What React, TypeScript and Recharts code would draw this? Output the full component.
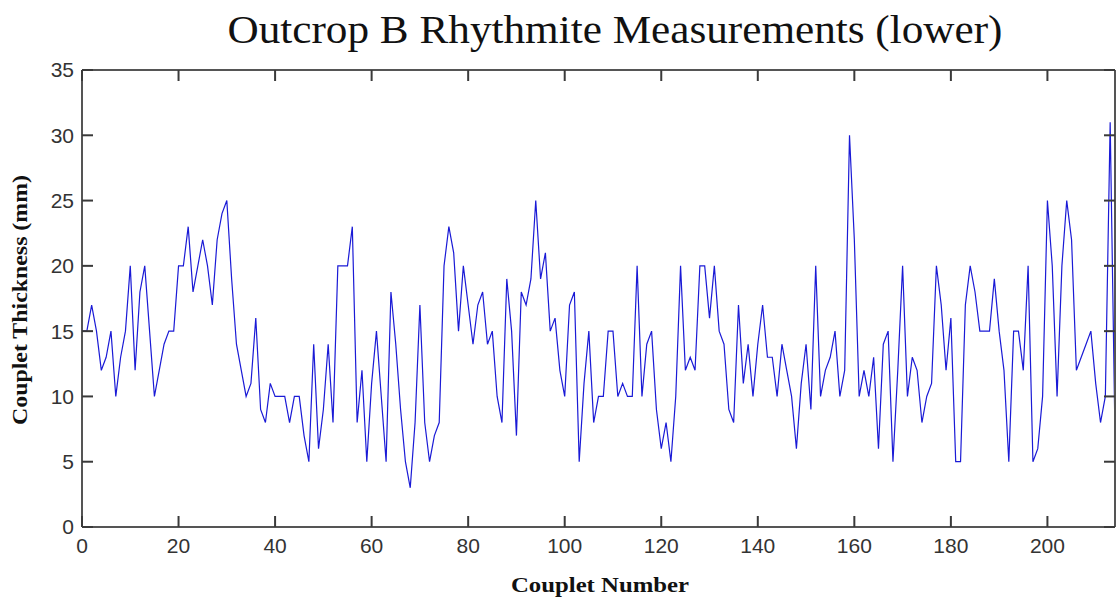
import { LineChart, Line, XAxis, YAxis } from "recharts";

// couplet thickness in mm, couplet 0..214
const thickness = [
  15, 15, 17, 15, 12, 13, 15, 10, 13, 15,
  20, 12, 18, 20, 15, 10, 12, 14, 15, 15,
  20, 20, 23, 18, 20, 22, 20, 17, 22, 24,
  25, 19, 14, 12, 10, 11, 16, 9, 8, 11,
  10, 10, 10, 8, 10, 10, 7, 5, 14, 6,
  9, 14, 8, 20, 20, 20, 23, 8, 12, 5,
  11, 15, 10, 5, 18, 14, 9, 5, 3, 8,
  17, 8, 5, 7, 8, 20, 23, 21, 15, 20,
  17, 14, 17, 18, 14, 15, 10, 8, 19, 15,
  7, 18, 17, 19, 25, 19, 21, 15, 16, 12,
  10, 17, 18, 5, 11, 15, 8, 10, 10, 15,
  15, 10, 11, 10, 10, 20, 10, 14, 15, 9,
  6, 8, 5, 10, 20, 12, 13, 12, 20, 20,
  16, 20, 15, 14, 9, 8, 17, 11, 14, 10,
  14, 17, 13, 13, 10, 14, 12, 10, 6, 11,
  14, 9, 20, 10, 12, 13, 15, 10, 12, 30,
  22, 10, 12, 10, 13, 6, 14, 15, 5, 12,
  20, 10, 13, 12, 8, 10, 11, 20, 17, 12,
  16, 5, 5, 17, 20, 18, 15, 15, 15, 19,
  15, 12, 5, 15, 15, 12, 20, 5, 6, 10,
  25, 20, 10, 20, 25, 22, 12, 13, 14, 15,
  11, 8, 10, 31, 7,
];

const xTicks = [0, 20, 40, 60, 80, 100, 120, 140, 160, 180, 200];
const yTicks = [0, 5, 10, 15, 20, 25, 30, 35];

const data = thickness.map((t, i) => ({ n: i, t }));

const serif = '"Liberation Serif", "Times New Roman", serif';
const sans = '"Liberation Sans", Arial, Helvetica, sans-serif';
const frame = "#555";
const tickColor = "#3a3a3a";
const TICK = 11;
const X_GAP = 11;
const Y_GAP = 8;

// matlab style: tick marks point into the plot, label outside
const BottomTick = (props: any) => {
  const { x, y, payload } = props;
  return (
    <g>
      <path d={`M${x},${y - X_GAP}V${y - X_GAP - TICK}`} stroke={tickColor} strokeWidth={2} fill="none" />
      <text x={x} y={y} dy="0.71em" textAnchor="middle" fontFamily={sans} fontSize={21} fill="#333">
        {payload.value}
      </text>
    </g>
  );
};

const LeftTick = (props: any) => {
  const { x, y, payload } = props;
  return (
    <g>
      <path d={`M${x + Y_GAP},${y}H${x + Y_GAP + TICK}`} stroke={tickColor} strokeWidth={2} fill="none" />
      <text x={x} y={y} dy="0.355em" textAnchor="end" fontFamily={sans} fontSize={21} fill="#333">
        {payload.value}
      </text>
    </g>
  );
};

const TopTick = (props: any) => {
  const { x, y } = props;
  return <path d={`M${x},${y}V${y + TICK}`} stroke={tickColor} strokeWidth={2} fill="none" />;
};

const RightTick = (props: any) => {
  const { x, y } = props;
  return <path d={`M${x},${y}H${x - TICK}`} stroke={tickColor} strokeWidth={2} fill="none" />;
};

export default function App() {
  return (
    <div style={{ position: "absolute", left: 0, top: 0, width: 1118, height: 603, background: "#fff" }}>
      <LineChart
        width={1118}
        height={603}
        data={data}
        margin={{ top: 69, right: 2, bottom: 0, left: 0 }}
      >
        <XAxis
          dataKey="n"
          type="number"
          domain={[0, 214]}
          ticks={xTicks}
          height={76}
          tickSize={0}
          tickMargin={X_GAP}
          tick={BottomTick}
          tickLine={false}
          axisLine={{ stroke: frame, strokeWidth: 2 }}
        />
        <XAxis
          xAxisId="top"
          orientation="top"
          dataKey="n"
          type="number"
          domain={[0, 214]}
          ticks={xTicks}
          height={1}
          tickSize={0}
          tickMargin={0}
          tick={TopTick}
          tickLine={false}
          axisLine={{ stroke: frame, strokeWidth: 2 }}
        />
        <YAxis
          domain={[0, 35]}
          ticks={yTicks}
          width={82}
          tickSize={0}
          tickMargin={Y_GAP}
          tick={LeftTick}
          tickLine={false}
          axisLine={{ stroke: frame, strokeWidth: 2 }}
        />
        <YAxis
          yAxisId="right"
          orientation="right"
          domain={[0, 35]}
          ticks={yTicks}
          width={1}
          tickSize={0}
          tickMargin={0}
          tick={RightTick}
          tickLine={false}
          axisLine={{ stroke: frame, strokeWidth: 2 }}
        />
        <Line
          type="linear"
          dataKey="t"
          stroke="#1a1ad6"
          strokeWidth={1.2}
          dot={false}
          isAnimationActive={false}
        />
        <Line
          xAxisId="top"
          yAxisId="right"
          type="linear"
          dataKey="t"
          stroke="none"
          dot={false}
          activeDot={false}
          legendType="none"
          isAnimationActive={false}
        />
      </LineChart>
      <svg
        width={1118}
        height={603}
        style={{ position: "absolute", left: 0, top: 0, pointerEvents: "none" }}
      >
        <text
          x={615}
          y={43}
          textAnchor="middle"
          fontFamily={serif}
          fontSize={40}
          fill="#111"
          textLength={775}
          lengthAdjust="spacingAndGlyphs"
        >
          Outcrop B Rhythmite Measurements (lower)
        </text>
        <text
          x={600}
          y={592}
          textAnchor="middle"
          fontFamily={serif}
          fontSize={22}
          fontWeight="bold"
          fill="#111"
          textLength={178}
          lengthAdjust="spacingAndGlyphs"
        >
          Couplet Number
        </text>
        <text
          x={27}
          y={300}
          textAnchor="middle"
          fontFamily={serif}
          fontSize={21}
          fontWeight="bold"
          fill="#111"
          transform="rotate(-90 27 300)"
          textLength={250}
          lengthAdjust="spacingAndGlyphs"
        >
          Couplet Thickness (mm)
        </text>
      </svg>
    </div>
  );
}
